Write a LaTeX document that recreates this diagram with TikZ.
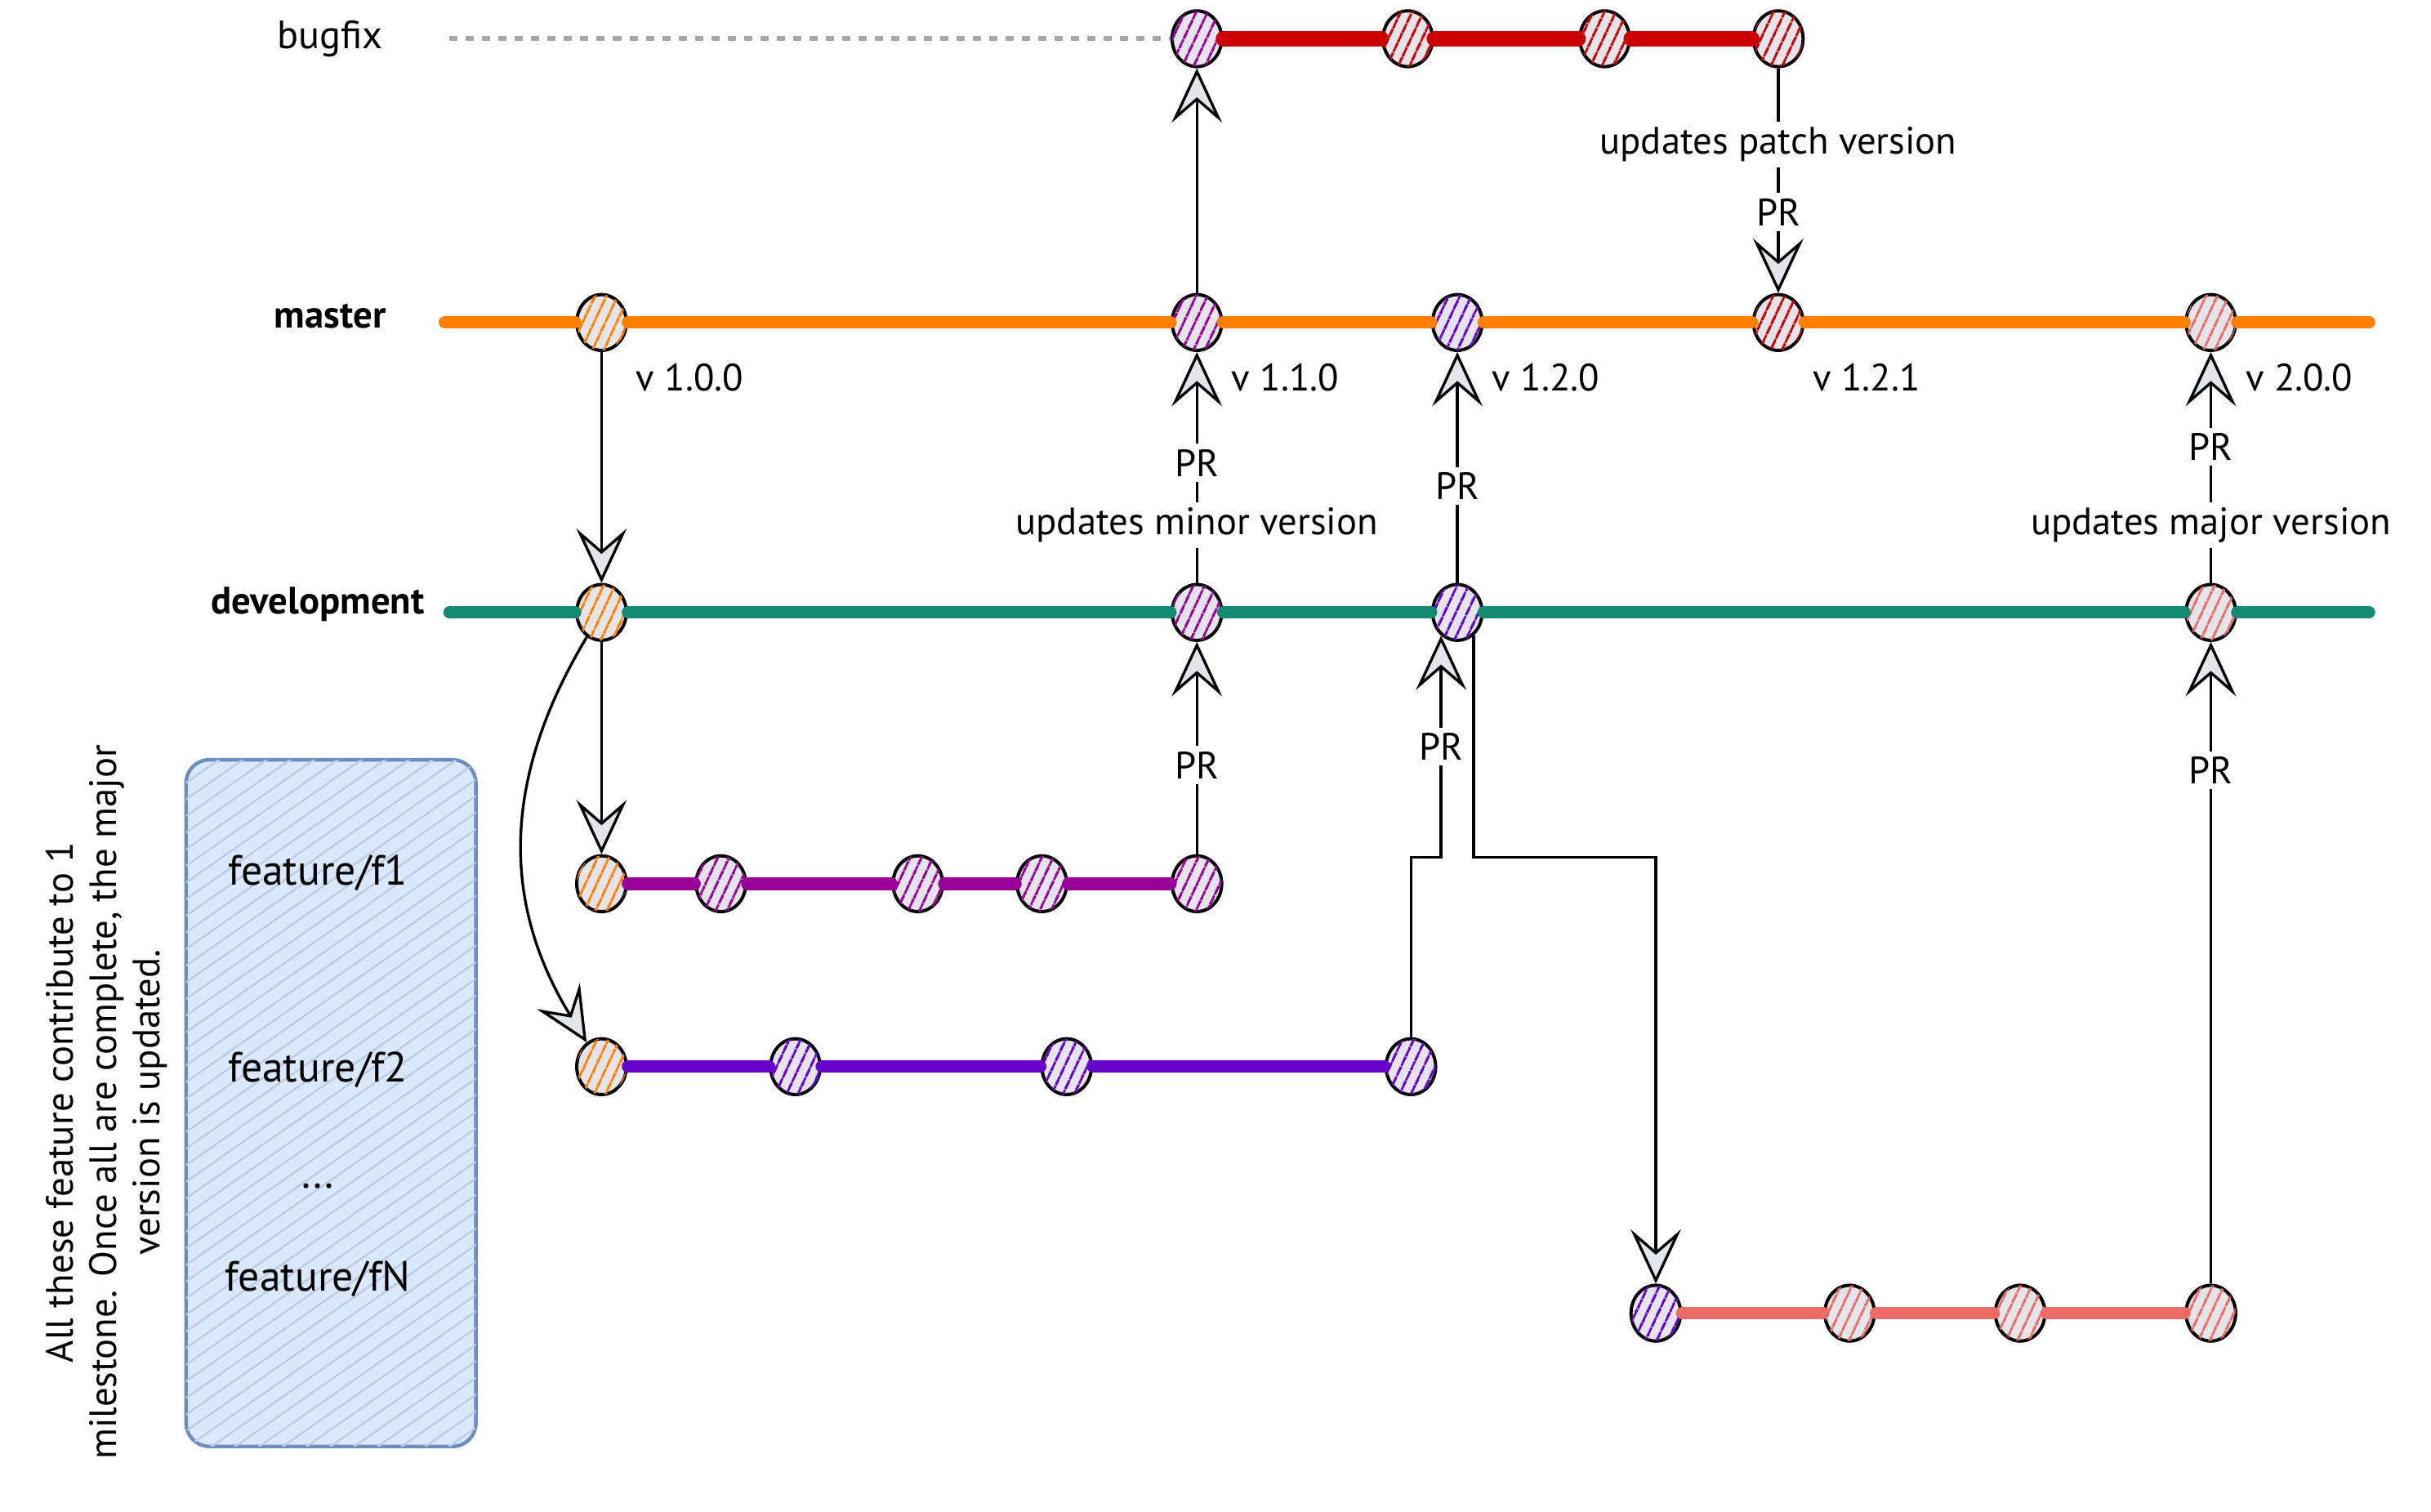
\documentclass[tikz,border=0pt]{standalone}
\usepackage{fontspec}
\setmainfont{PT Sans}
\usetikzlibrary{arrows.meta,positioning,shapes.geometric,patterns.meta}
\definecolor{MasterOrange}{HTML}{FF8000}
\definecolor{BugRed}{HTML}{CC0000}
\definecolor{DevGreen}{HTML}{128B70}
\definecolor{FeatPurple}{HTML}{990099}
\definecolor{FeatViolet}{HTML}{6600CC}
\definecolor{FeatSalmon}{HTML}{EA6B66}
\definecolor{CommitGray}{HTML}{E3E5EA}
\definecolor{NoteBlue}{HTML}{DAE8FC}
\definecolor{NoteEdge}{HTML}{6C8EBF}

\begin{document}
\begin{tikzpicture}[x=0.02cm,y=-0.02cm,
    commit/.style={ellipse,draw,line width=1.2pt,fill=CommitGray,
                   minimum width=0.64cm,minimum height=0.72cm,inner sep=0pt,
                   postaction={pattern color=#1,pattern={Lines[angle=65,distance=4pt,line width=1pt]}}},
    branch/.style={line width=4.6pt,line cap=round,#1},
    arr/.style={-{Stealth[length=7mm,width=6.5mm,inset=2.8mm,fill=CommitGray,line width=1pt]},line width=1pt},
    lbl/.style={fill=white,font=\fontsize{14}{16}\selectfont,inner sep=2pt},
    ver/.style={font=\fontsize{14}{16}\selectfont,inner sep=0pt},
    brname/.style={font=\bfseries\fontsize{14}{16}\selectfont},
    feat/.style={font=\fontsize{15.5}{18}\selectfont},
    notebox/.style={rounded corners=0.3cm,draw=NoteEdge,line width=1.3pt,fill=NoteBlue,
                    minimum width=3.74cm,minimum height=8.86cm,
                    postaction={pattern color=NoteEdge!45,pattern={Lines[angle=35,distance=5pt,line width=0.7pt]}}}]
    \useasboundingbox (0,0) rectangle (1568,975);

    \node[font=\fontsize{14.5}{16}\selectfont] (lbug) at (213,25) {bugfix};
    \node[brname] (lmaster) at (213,204) {master};
    \node[brname] (ldev) at (205,390) {development};

    \coordinate (bstart) at (290,25);
    \coordinate (mstart) at (287,208);
    \coordinate (mend) at (1528,208);
    \coordinate (dstart) at (290,395);
    \coordinate (dend) at (1528,395);

    \node[commit=FeatPurple] (b1) at (772,25) {};
    \node[commit=BugRed] (b2) at (908,25) {};
    \node[commit=BugRed] (b3) at (1035,25) {};
    \node[commit=BugRed] (b4) at (1147,25) {};

    \node[commit=MasterOrange] (m1) at (388,208) {};
    \node[commit=FeatPurple] (m2) at (772,208) {};
    \node[commit=FeatViolet] (m3) at (940,208) {};
    \node[commit=BugRed] (m4) at (1147,208) {};
    \node[commit=FeatSalmon] (m5) at (1426,208) {};

    \node[commit=MasterOrange] (d1) at (388,395) {};
    \node[commit=FeatPurple] (d2) at (772,395) {};
    \node[commit=FeatViolet] (d3) at (940,395) {};
    \node[commit=FeatSalmon] (d4) at (1426,395) {};

    \node[commit=MasterOrange] (fa1) at (388,570) {};
    \node[commit=FeatPurple] (fa2) at (465,570) {};
    \node[commit=FeatPurple] (fa3) at (592,570) {};
    \node[commit=FeatPurple] (fa4) at (672,570) {};
    \node[commit=FeatPurple] (fa5) at (772,570) {};

    \node[commit=MasterOrange] (fb1) at (388,688) {};
    \node[commit=FeatViolet] (fb2) at (513,688) {};
    \node[commit=FeatViolet] (fb3) at (688,688) {};
    \node[commit=FeatViolet] (fb4) at (910,688) {};

    \node[commit=FeatViolet] (fc1) at (1068,847) {};
    \node[commit=FeatSalmon] (fc2) at (1193,847) {};
    \node[commit=FeatSalmon] (fc3) at (1303,847) {};
    \node[commit=FeatSalmon] (fc4) at (1426,847) {};

    \draw[gray!70,line width=1.8pt,dashed] (bstart) -- (b1);
    \draw[branch=BugRed,line width=5.6pt] (b1) -- (b2) -- (b3) -- (b4);
    \draw[branch=MasterOrange] (mstart) -- (m1) -- (m2) -- (m3) -- (m4) -- (m5) -- (mend);
    \draw[branch=DevGreen] (dstart) -- (d1) -- (d2) -- (d3) -- (d4) -- (dend);
    \draw[branch=FeatPurple] (fa1) -- (fa2) -- (fa3) -- (fa4) -- (fa5);
    \draw[branch=FeatViolet] (fb1) -- (fb2) -- (fb3) -- (fb4);
    \draw[branch=FeatSalmon] (fc1) -- (fc2) -- (fc3) -- (fc4);

    \node[ver,below right=0.26cm and 0.2cm of m1] (v100) {v 1.0.0};
    \node[ver,below right=0.26cm and 0.2cm of m2] (v110) {v 1.1.0};
    \node[ver,below right=0.26cm and 0.2cm of m3] (v120) {v 1.2.0};
    \node[ver,below right=0.26cm and 0.2cm of m4] (v121) {v 1.2.1};
    \node[ver,below right=0.26cm and 0.2cm of m5] (v200) {v 2.0.0};

    \coordinate (j1) at (910,553);
    \coordinate (j2) at (1068,553);

    \draw[arr] (m1) -- (d1);
    \draw[arr] (d1) -- (fa1);
    \draw[arr] (d1) .. controls (325,500) and (322,580) .. (fb1);
    \draw[arr] (m2) -- (b1);
    \draw[arr] (b4) -- node[lbl,pos=0.34] {updates patch version} node[lbl,pos=0.64] {PR} (m4);
    \draw[arr] (d2) -- node[lbl,pos=0.25] {updates minor version} node[lbl,pos=0.52] {PR} (m2);
    \draw[arr] (fa5) -- node[lbl,pos=0.42] {PR} (d2);
    \draw[arr] (d3) -- node[lbl,pos=0.42] {PR} (m3);
    \draw[arr] (fb4) -- (j1) -| node[lbl,pos=0.75] {PR} (d3.-125);
    \draw[arr] (d3.-55) |- (j2) -- (fc1);
    \draw[arr] (fc4) -- node[lbl,pos=0.8] {PR} (d4);
    \draw[arr] (d4) -- node[lbl,pos=0.25] {updates major version} node[lbl,pos=0.59] {PR} (m5);

    \node[notebox] (note) at (213.5,711.5) {};
    \node[feat] (ff1) at (205,563) {feature/f1};
    \node[feat] (ff2) at (205,690) {feature/f2};
    \node[feat] (ffdots) at (205,765) {...};
    \node[feat] (ffn) at (205,825) {feature/fN};
    \node[rotate=90,align=center,font=\fontsize{14}{15.9}\selectfont] (notetext) at (69,711)
        {All these feature contribute to 1\\milestone. Once all are complete, the major\\version is updated.};
\end{tikzpicture}
\end{document}
